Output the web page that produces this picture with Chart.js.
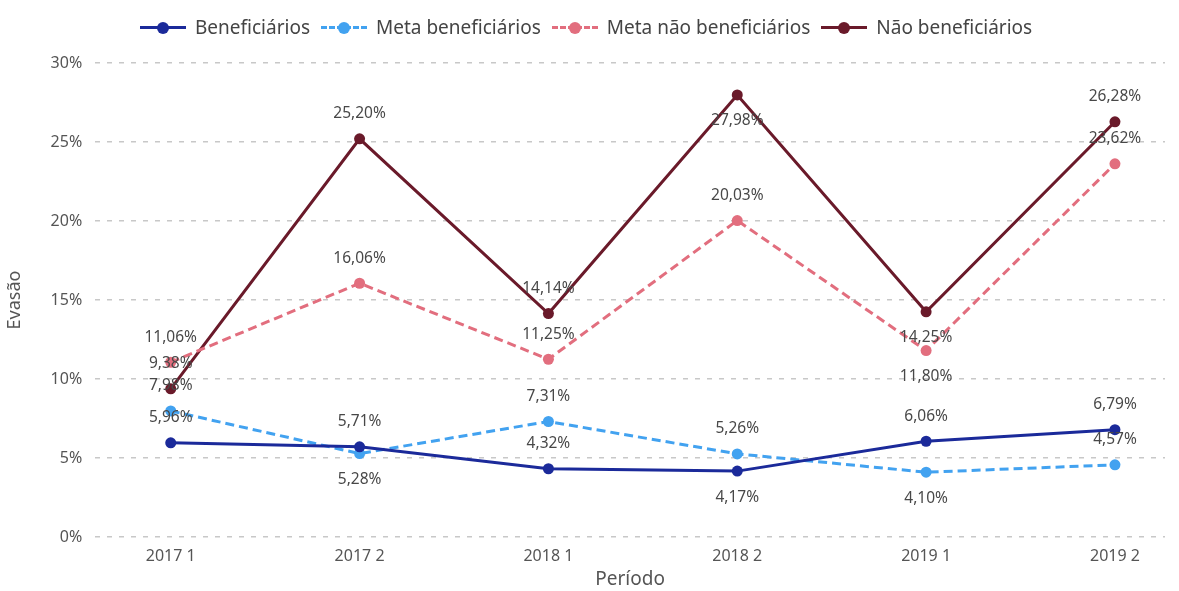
<!DOCTYPE html>
<html>
<head>
<meta charset="utf-8">
<script src="https://cdn.jsdelivr.net/npm/chart.js@4.4.0/dist/chart.umd.min.js"></script>
<style>
  body { margin: 0; background: #fff; font-family: "Noto Sans", sans-serif; }
  #wrap { position: relative; width: 1179px; height: 591px; }
  #legend { position: absolute; top: 14px; left: 140px; display: flex; font-size: 19px; color: #444; white-space: nowrap; }
  .item { display: flex; align-items: center; margin-right: 11px; }
  .mark { position: relative; width: 46px; height: 14px; margin-right: 9px; }
  .mark .ln { position: absolute; left: 0; right: 0; top: 6px; border-top: 3px solid; }
  .mark .dot { position: absolute; left: 17px; top: 2px; width: 12px; height: 12px; border-radius: 50%; }
</style>
</head>
<body>
<div id="wrap">
  <div id="legend"></div>
  <canvas id="chart" width="1179" height="591"></canvas>
</div>
<script>
const periods = ['2017 1', '2017 2', '2018 1', '2018 2', '2019 1', '2019 2'];
const beneficiarios = [5.96, 5.71, 4.32, 4.17, 6.06, 6.79];
const metaBeneficiarios = [7.98, 5.28, 7.31, 5.26, 4.10, 4.57];
const metaNaoBeneficiarios = [11.06, 16.06, 11.25, 20.03, 11.80, 23.62];
const naoBeneficiarios = [9.38, 25.20, 14.14, 27.98, 14.25, 26.28];
const yTicks = [0, 5, 10, 15, 20, 25, 30];

// label placement per point: 1 = above, -1 = below
const labelSide = [
  [1, 1, 1, -1, 1, 1],
  [1, -1, 1, 1, -1, 1],
  [1, 1, 1, 1, -1, 1],
  [1, 1, 1, -1, -1, 1]
];

function series(label, values, color, dashed) {
  return {
    label: label,
    data: values.map((v, i) => ({ x: i, y: v })),
    borderColor: color,
    backgroundColor: color,
    borderWidth: 3,
    borderDash: dashed ? [9, 5] : [],
    pointRadius: 5.5,
    pointHoverRadius: 5.5,
    pointBorderWidth: 0,
    tension: 0
  };
}

const datasets = [
  series('Beneficiários', beneficiarios, '#1b2a9a', false),
  series('Meta beneficiários', metaBeneficiarios, '#42a2f0', true),
  series('Meta não beneficiários', metaNaoBeneficiarios, '#e26e7e', true),
  series('Não beneficiários', naoBeneficiarios, '#6a1a2a', false)
];

const pointLabels = {
  id: 'pointLabels',
  afterDatasetsDraw(chart) {
    const ctx = chart.ctx;
    ctx.save();
    ctx.font = '15.5px "Noto Sans"';
    ctx.fillStyle = '#484848';
    ctx.textAlign = 'center';
    ctx.textBaseline = 'middle';
    chart.data.datasets.forEach((ds, di) => {
      chart.getDatasetMeta(di).data.forEach((pt, i) => {
        const v = ds.data[i].y;
        const txt = v.toFixed(2).replace('.', ',') + '%';
        const dy = labelSide[di][i] > 0 ? -25 : 26;
        ctx.fillText(txt, pt.x, pt.y + dy);
      });
    });
    ctx.restore();
  }
};

new Chart(document.getElementById('chart'), {
  type: 'line',
  data: { datasets: datasets },
  options: {
    responsive: false,
    animation: false,
    layout: { padding: { top: 63, right: 14, left: 0, bottom: 0 } },
    plugins: { legend: { display: false }, tooltip: { enabled: false } },
    scales: {
      x: {
        type: 'linear',
        min: -0.40,
        max: 5.265,
        afterBuildTicks: axis => { axis.ticks = periods.map((p, i) => ({ value: i })); },
        ticks: {
          callback: v => periods[v],
          color: '#555',
          font: { family: 'Noto Sans', size: 16 },
          padding: 2
        },
        grid: { display: false },
        border: { display: false },
        title: { display: true, text: 'Período', color: '#555', font: { family: 'Noto Sans', size: 19 }, padding: { top: 0, bottom: 0 } }
      },
      y: {
        min: 0,
        max: 30,
        afterBuildTicks: axis => { axis.ticks = yTicks.map(v => ({ value: v })); },
        ticks: {
          callback: v => v + '%',
          color: '#555',
          font: { family: 'Noto Sans', size: 16 },
          padding: 13
        },
        grid: { color: '#c8c8c8', lineWidth: 1.5, drawTicks: false },
        border: { display: false, dash: [5, 7] },
        title: { display: true, text: 'Evasão', color: '#555', font: { family: 'Noto Sans', size: 18 }, padding: { top: 4, bottom: 12 } }
      }
    }
  },
  plugins: [pointLabels]
});

// legend
const legend = document.getElementById('legend');
datasets.forEach(ds => {
  const item = document.createElement('div');
  item.className = 'item';
  const style = ds.borderDash.length ? 'dashed' : 'solid';
  item.innerHTML = '<span class="mark"><span class="ln" style="border-top-style:' + style +
    ';border-color:' + ds.borderColor + '"></span><span class="dot" style="background:' +
    ds.borderColor + '"></span></span><span>' + ds.label + '</span>';
  legend.appendChild(item);
});
</script>
</body>
</html>
